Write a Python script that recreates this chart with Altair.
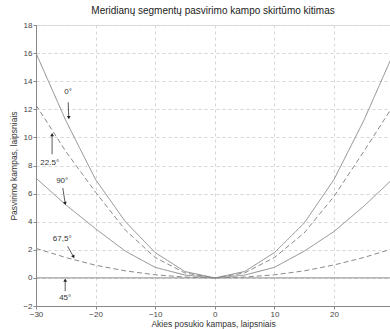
import altair as alt
import pandas as pd

x_vals = [-30, -25, -20, -15, -10, -5, 0, 5, 10, 15, 20, 25, 30]
s_0 = [16.0, 11.2, 7.0, 4.0, 1.8, 0.45, 0.0, 0.45, 1.8, 3.9, 7.0, 11.2, 16.0]
s_225 = [12.3, 9.0, 6.1, 3.4, 1.45, 0.35, 0.0, 0.35, 1.45, 3.2, 5.8, 9.0, 12.3]
s_90 = [7.1, 5.2, 3.5, 1.9, 0.75, 0.2, 0.0, 0.2, 0.75, 1.9, 3.3, 5.1, 7.1]
s_675 = [2.1, 1.45, 0.9, 0.5, 0.22, 0.06, 0.0, 0.06, 0.22, 0.5, 0.92, 1.45, 2.1]
s_45 = [0.0] * 13

series_names = ["0°", "22.5°", "90°", "67,5°", "45°"]
series_vals = [s_0, s_225, s_90, s_675, s_45]
series_dash = ["solid", "dashed", "solid", "dashed", "solid"]

# annotation labels and arrows (data coordinates)
lab_text = ["0°", "22.5°", "90°", "67,5°", "45°"]
lab_x = [-24.6, -27.7, -25.6, -25.6, -25.1]
lab_y = [13.2, 8.2, 6.9, 2.8, -1.45]
arr_x1 = [-24.6, -27.3, -25.5, -24.7, -25.1]
arr_y1 = [12.5, 8.8, 6.4, 2.25, -0.95]
arr_x2 = [-24.5, -27.3, -25.1, -23.7, -25.1]
arr_y2 = [11.4, 10.2, 5.3, 1.5, -0.15]
arr_angle = [180, 0, 165, 150, 0]

rows = []
for name, vals, dash in zip(series_names, series_vals, series_dash):
    for xv, yv in zip(x_vals, vals):
        rows.append({"x": xv, "y": yv, "series": name, "dash": dash})
df = pd.DataFrame(rows)

ann = pd.DataFrame({"text": lab_text, "x": lab_x, "y": lab_y,
                    "x1": arr_x1, "y1": arr_y1, "x2": arr_x2, "y2": arr_y2,
                    "angle": arr_angle})

FONT = "Liberation Sans"
xs = alt.Scale(domain=[-30, 29.4], nice=False, zero=False)
ys = alt.Scale(domain=[-2, 18], nice=False, zero=False)

xax = alt.Axis(values=[-30, -20, -10, 0, 10, 20], title="Akies posukio kampas, laipsniais",
               grid=True, gridDash=[3, 3], gridColor="#d6d6d6", labelFontSize=8,
               titleFontSize=8.5, titleFontWeight="normal", labelColor="#444", titleColor="#333",
               tickSize=3, domainColor="#888", tickColor="#888", titlePadding=1, labelPadding=1,
               labelFont=FONT, titleFont=FONT, labelFlush=False, labelOverlap=False)
yax = alt.Axis(values=[-2, 0, 2, 4, 6, 8, 10, 12, 14, 16, 18], title="Pasvirimo kampas, laipsniais",
               grid=True, gridDash=[3, 3], gridColor="#d6d6d6", labelFontSize=8,
               titleFontSize=8.5, titleFontWeight="normal", labelColor="#444", titleColor="#333",
               tickSize=3, domainColor="#888", tickColor="#888", titlePadding=4, labelPadding=1,
               labelFont=FONT, titleFont=FONT, labelOverlap=False, labelFlush=False)

lines = alt.Chart(df).mark_line(strokeWidth=1, clip=True, color="#8a8a8a").encode(
    x=alt.X("x:Q", scale=xs, axis=xax),
    y=alt.Y("y:Q", scale=ys, axis=yax),
    detail="series:N",
    strokeDash=alt.StrokeDash("dash:N", scale=alt.Scale(domain=["solid", "dashed"],
                                                        range=[[1, 0], [5, 3]]), legend=None),
)

labels = alt.Chart(ann).mark_text(fontSize=8, font=FONT, color="#333").encode(
    x=alt.X("x:Q", scale=xs, axis=xax), y=alt.Y("y:Q", scale=ys, axis=yax), text="text:N")

arrows = alt.Chart(ann).mark_rule(color="#333", strokeWidth=0.8).encode(
    x=alt.X("x1:Q", scale=xs, axis=xax), y=alt.Y("y1:Q", scale=ys, axis=yax), x2="x2:Q", y2="y2:Q")

heads = alt.Chart(ann).mark_point(shape="triangle-up", filled=True, size=14, color="#222",
                                  opacity=1).encode(
    x=alt.X("x2:Q", scale=xs, axis=xax), y=alt.Y("y2:Q", scale=ys, axis=yax),
    angle=alt.Angle("angle:Q", scale=None))

chart = alt.layer(lines, arrows, heads, labels).properties(
    width=354, height=281,
    title=alt.Title("Meridianų segmentų pasvirimo kampo skirtūmo kitimas", fontSize=10,
                    font=FONT, fontWeight="normal", color="#222", offset=5),
    padding={"left": 36, "top": 25, "right": 0, "bottom": 23},
    autosize=alt.AutoSizeParams(type="none"),
).configure_view(stroke="#888", strokeWidth=1).configure(background="white")

chart.save("out.html", embed_options={"renderer": "svg", "actions": False})
